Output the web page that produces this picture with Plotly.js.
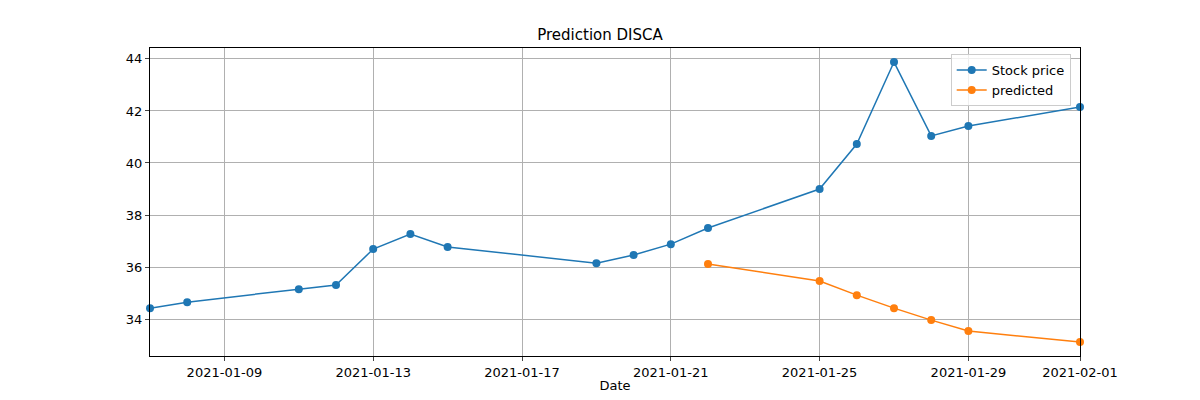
<!DOCTYPE html>
<html><head><meta charset="utf-8">
<script src="https://cdn.plot.ly/plotly-3.0.1.min.js"></script>
<style>body{margin:0}</style></head>
<body><div id="c" style="width:1200px;height:400px"></div>
<script>
const stockDates=["2021-01-07","2021-01-08","2021-01-11","2021-01-12","2021-01-13","2021-01-14","2021-01-15","2021-01-19","2021-01-20","2021-01-21","2021-01-22","2021-01-25","2021-01-26","2021-01-27","2021-01-28","2021-01-29","2021-02-01"];
const stockPrice=[34.42,34.65,35.15,35.31,36.69,37.27,36.77,36.15,36.46,36.88,37.5,39.0,40.73,43.88,41.04,41.42,42.15];
const predDates=["2021-01-22","2021-01-25","2021-01-26","2021-01-27","2021-01-28","2021-01-29","2021-02-01"];
const predicted=[36.12,35.46,34.92,34.42,33.96,33.54,33.12];
const tickVals=["2021-01-09","2021-01-13","2021-01-17","2021-01-21","2021-01-25","2021-01-29","2021-02-01"];
Plotly.newPlot('c',[
{x:stockDates,y:stockPrice,name:'Stock price',mode:'lines+markers',line:{color:'#1f77b4',width:1.5},marker:{size:8,color:'#1f77b4'},cliponaxis:false},
{x:predDates,y:predicted,name:'predicted',mode:'lines+markers',line:{color:'#ff7f0e',width:1.5},marker:{size:8,color:'#ff7f0e'},cliponaxis:false}
],{
width:1200,height:400,margin:{l:150,r:120,t:48,b:44},
paper_bgcolor:'#fff',plot_bgcolor:'#fff',
font:{family:'DejaVu Sans',size:13,color:'#000'},
title:{text:'Prediction DISCA',x:0.5,xanchor:'center',y:0.9125,yanchor:'middle',font:{size:15}},
xaxis:{type:'date',range:['2021-01-07','2021-02-01'],tickvals:tickVals,ticktext:tickVals,showgrid:true,gridcolor:'#b0b0b0',
 showline:true,mirror:true,linecolor:'#000',ticks:'outside',ticklen:4,zeroline:false,title:{text:'Date',standoff:2,font:{size:13}}},
yaxis:{range:[32.58,44.42],tickvals:[34,36,38,40,42,44],showgrid:true,gridcolor:'#b0b0b0',showline:true,mirror:true,linecolor:'#000',ticks:'outside',ticklen:4,zeroline:false},
legend:{x:0.99,y:0.98,xanchor:'right',yanchor:'top',bordercolor:'#ccc',borderwidth:1,bgcolor:'rgba(255,255,255,0.8)'},
showlegend:true
},{displayModeBar:false});
</script></body></html>
